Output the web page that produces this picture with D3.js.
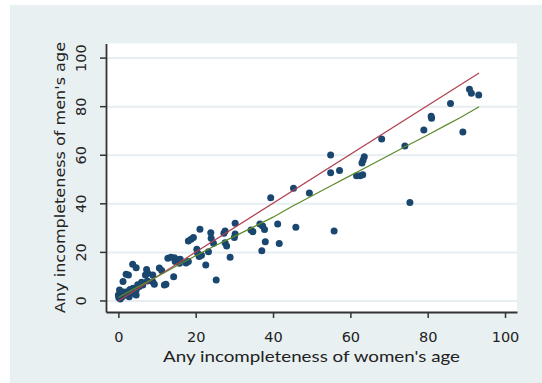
<!DOCTYPE html>
<html>
<head>
<meta charset="utf-8">
<script src="https://cdn.jsdelivr.net/npm/d3@7"></script>
<style>
  body { margin: 0; background: #fff; }
</style>
</head>
<body>
<div id="chart"></div>
<script>
// incompleteness of women's age (x) vs men's age (y), one point per survey
const womenAge = [
  93.2, 91.3, 90.8, 89.1, 85.9, 80.9, 81.0, 79.0, 75.4, 74.1,
  68.1, 63.6, 63.3, 63.0, 61.6, 62.5, 63.2, 54.9, 54.9, 57.2,
  55.8, 49.4, 45.3, 45.9, 39.4, 41.2, 41.6, 36.6, 37.3, 37.8,
  34.3, 34.8, 38.0, 37.1, 30.2, 30.2, 30.0, 27.3, 27.6, 27.6,
  28.0, 28.9, 25.3, 23.9, 24.0, 24.6, 23.3, 22.6, 21.1, 18.1,
  18.8, 19.4, 20.3, 20.5, 20.9, 21.5, 18.1, 17.5, 16.0, 15.1,
  14.7, 14.3, 12.8, 13.6, 14.5, 15.4, 15.8, 10.6, 11.2, 12.3,
  11.9, 7.3, 7.6, 7.0, 8.9, 8.9, 9.3, 6.3, 5.4, 3.7,
  4.6, 2.0, 2.6, 1.2, 4.6, 2.4, 0.3, 0.0, 0.1, 1.1,
  1.6, 3.3, 4.6, 3.8, 3.0, 0.5, 1.5, 6.0, 5.0, 7.5,
  2.8
]
const menAge = [
  84.6, 85.3, 87.0, 69.4, 81.1, 75.8, 75.0, 70.2, 40.3, 63.6,
  66.5, 59.2, 57.8, 56.6, 51.3, 51.3, 51.8, 59.9, 52.6, 53.5,
  28.6, 44.2, 46.2, 30.1, 42.3, 31.5, 23.5, 31.5, 30.7, 29.2,
  29.0, 28.3, 24.2, 20.5, 31.8, 27.4, 25.9, 27.7, 28.6, 23.8,
  22.4, 17.8, 8.4, 27.9, 25.6, 23.6, 20.1, 14.6, 29.3, 24.5,
  25.2, 25.9, 21.1, 19.4, 18.1, 18.6, 16.0, 15.4, 17.0, 16.7,
  16.0, 9.8, 17.4, 17.8, 17.6, 16.7, 15.3, 13.4, 12.3, 6.7,
  6.4, 12.8, 11.2, 10.5, 10.5, 7.7, 6.7, 6.4, 5.7, 14.9,
  13.5, 10.8, 10.5, 7.8, 4.3, 3.6, 4.3, 2.3, 1.2, 1.6,
  2.6, 3.0, 2.3, 5.0, 4.5, 0.6, 3.5, 7.5, 6.5, 8.0,
  1.5
]

// equality line and smoothed fit
const equalX = [0, 93.3]
const equalY = [-0.2, 93.7]
const smoothX = [0, 5, 10, 15, 20, 25, 30, 35, 40, 45, 50, 55, 60, 65, 70, 75, 80, 85, 88.5, 93.3]
const smoothY = [1.2, 5.6, 9.8, 14.2, 18.4, 22.5, 26.4, 30.3, 34.3, 38.8, 43.0, 47.2, 51.4, 55.6, 59.8, 64.0, 68.1, 72.4, 75.3, 79.8]

const xTicks = [0, 20, 40, 60, 80, 100]
const yTicks = [0, 20, 40, 60, 80, 100]

const width = 542
const height = 383
const plot = { left: 106, right: 517, top: 43.5, bottom: 312 }

const svg = d3.select('#chart')
  .append('svg')
  .attr('width', width)
  .attr('height', height)

// graph region
svg.append('rect')
  .attr('x', 10)
  .attr('y', 5)
  .attr('width', width - 10)
  .attr('height', height - 5)
  .attr('fill', '#e9f0f2')

// plot region
svg.append('rect')
  .attr('x', plot.left)
  .attr('y', plot.top)
  .attr('width', plot.right - plot.left)
  .attr('height', plot.bottom - plot.top)
  .attr('fill', '#ffffff')

const x = d3.scaleLinear().domain([-3.2, 103.1]).range([plot.left, plot.right])
const y = d3.scaleLinear().domain([-4.75, 105.8]).range([plot.bottom, plot.top])

// gridlines
svg.append('g')
  .attr('transform', `translate(${plot.left},0)`)
  .call(d3.axisLeft(y).tickValues(yTicks).tickSize(-(plot.right - plot.left)).tickFormat(''))
  .call(g => g.select('.domain').remove())
  .selectAll('line')
  .attr('stroke', '#e6eef1')
  .attr('stroke-width', 2)

// points
svg.append('g')
  .selectAll('circle')
  .data(womenAge)
  .join('circle')
  .attr('cx', d => x(d))
  .attr('cy', (d, i) => y(menAge[i]))
  .attr('r', 3.5)
  .attr('fill', '#1a476f')

const line = d3.line()
  .x(d => x(d[0]))
  .y(d => y(d[1]))

svg.append('path')
  .datum(equalX.map((d, i) => [d, equalY[i]]))
  .attr('d', line)
  .attr('fill', 'none')
  .attr('stroke', '#b0404f')
  .attr('stroke-width', 1.2)

svg.append('path')
  .datum(smoothX.map((d, i) => [d, smoothY[i]]))
  .attr('d', line)
  .attr('fill', 'none')
  .attr('stroke', '#5d8a2c')
  .attr('stroke-width', 1.2)

const tickFont = "'DejaVu Sans', Verdana, sans-serif"

// x axis
const xAxis = svg.append('g')
  .attr('transform', `translate(0,${plot.bottom})`)
  .call(d3.axisBottom(x).tickValues(xTicks).tickSize(6).tickSizeOuter(0).tickFormat(d3.format('d')))
xAxis.select('.domain').attr('stroke', '#333').attr('stroke-width', 1.8)
xAxis.selectAll('line').attr('stroke', '#333').attr('stroke-width', 1.5)
xAxis.selectAll('text')
  .attr('y', 25)
  .attr('dy', 0)
  .attr('dominant-baseline', 'central')
  .attr('fill', '#222')
  .style('font-family', tickFont)
  .style('font-size', '14.5px')

// y axis, labels rotated like the original
const yAxis = svg.append('g')
  .attr('transform', `translate(${plot.left},0)`)
  .call(d3.axisLeft(y).tickValues(yTicks).tickSize(6).tickSizeOuter(0).tickFormat(d3.format('d')))
yAxis.select('.domain').attr('stroke', '#333').attr('stroke-width', 1.8)
yAxis.selectAll('line').attr('stroke', '#333').attr('stroke-width', 1.5)
yAxis.selectAll('text')
  .attr('x', 0)
  .attr('dy', 0)
  .attr('transform', 'translate(-25,0) rotate(-90)')
  .attr('text-anchor', 'middle')
  .attr('dominant-baseline', 'central')
  .attr('fill', '#222')
  .style('font-family', tickFont)
  .style('font-size', '14.5px')

// axis titles
svg.append('text')
  .attr('x', 163)
  .attr('y', 361.5)
  .attr('textLength', 297)
  .attr('lengthAdjust', 'spacingAndGlyphs')
  .attr('fill', '#222')
  .style('font-family', 'Lato, sans-serif')
  .style('font-size', '16px')
  .text("Any incompleteness of women's age")

svg.append('text')
  .attr('transform', 'translate(60,177.5) rotate(-90)')
  .attr('text-anchor', 'middle')
  .attr('dominant-baseline', 'central')
  .attr('textLength', 271)
  .attr('lengthAdjust', 'spacingAndGlyphs')
  .attr('fill', '#222')
  .style('font-family', tickFont)
  .style('font-size', '14.5px')
  .text("Any incompleteness of men's age")
</script>
</body>
</html>
